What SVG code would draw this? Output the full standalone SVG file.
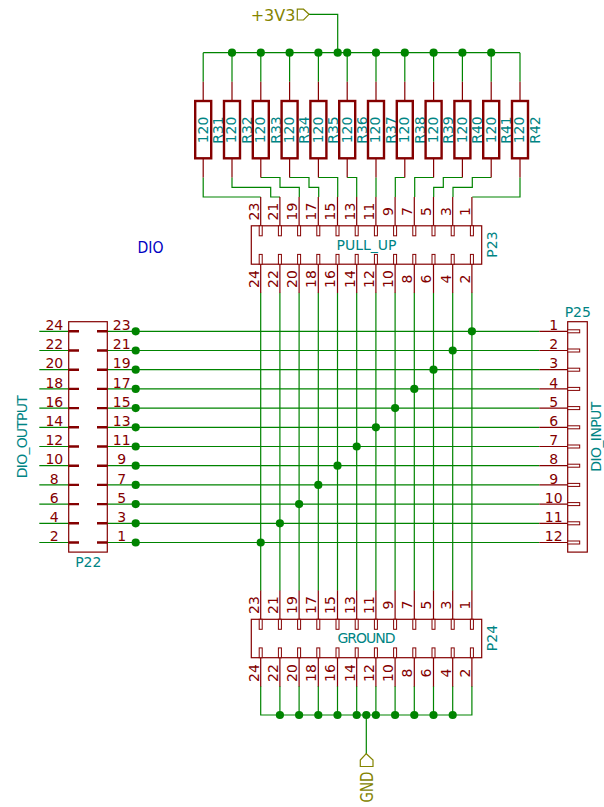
<svg xmlns="http://www.w3.org/2000/svg" width="604" height="807" viewBox="0 0 604 807">
<defs>
<style>
text{font-family:"DejaVu Sans","Liberation Sans",sans-serif;font-size:14px;text-anchor:middle}
.w{fill:none;stroke:#008400;stroke-width:1.2}
.r{fill:none;stroke:#840000;stroke-width:1.2}
.b{fill:none;stroke:#840000;stroke-width:2.4}
.p{fill:#fff;stroke:#840000;stroke-width:1}
.m{fill:none;stroke:#840000;stroke-width:2.4}
.t{fill:#008484}
.n{fill:#840000}
.f{fill:none;stroke:#848400;stroke-width:1.2}
.y{fill:#848400}
.d{fill:#008400}
</style>
<g id="res"><path class="r" d="M0 81.7V101M0 158.3V177.5"/><rect class="b" x="-8" y="101" width="16" height="57.3"/></g>
<circle id="j" r="4.1" class="d"/>
<g id="pv"><path class="r" d="M0 0V28.8M0 67.2V96"/><rect class="p" x="-1.5" y="28.8" width="3" height="10"/><rect class="p" x="-1.5" y="57.4" width="3" height="9.8"/></g>
</defs>
<g id="connectors">
<path class="w" d="M203.2 52.7H520M309 14.3H337.7V52.7M232 52.7V81.7M260.8 52.7V81.7M289.6 52.7V81.7M318.4 52.7V81.7M347.2 52.7V81.7M376 52.7V81.7M404.8 52.7V81.7M433.6 52.7V81.7M462.4 52.7V81.7M491.2 52.7V81.7M203.2 52.7V81.7M520 52.7V81.7"/>
<path class="w" d="M203.2 177.5V197H260.7M232 177.5V187.3H270.7V197H280M260.8 177.5H280V187.3H299.3V197M289.6 177.5H309V187.3H318.7V197M318.4 177.5H337.7V197M347.2 177.5H356.7V197M376 177.5V197M404.8 177.5H395.3V197M433.6 177.5H414.7V197M462.4 177.5H443.3V187.3H433.7V197M491.2 177.5H472.3V187.3H453V197M520 177.5V197H472.3"/>
<path class="w" d="M260.7 292.8V590.7M279.9 292.8V590.7M299.1 292.8V590.7M318.3 292.8V590.7M337.5 292.8V590.7M356.7 292.8V590.7M375.9 292.8V590.7M395.1 292.8V590.7M414.3 292.8V590.7M433.5 292.8V590.7M452.7 292.8V590.7M471.9 292.8V590.7"/>
<path class="w" d="M260.7 686V715H471.9V686M279.9 686V715M299.1 686V715M318.3 686V715M337.5 686V715M356.7 686V715M375.9 686V715M395.1 686V715M414.3 686V715M433.5 686V715M452.7 686V715M366.3 715V754"/>
<path class="w" d="M39.3 331.3H69M39.3 350.5H69M39.3 369.7H69M39.3 388.9H69M39.3 408.1H69M39.3 427.3H69M39.3 446.5H69M39.3 465.7H69M39.3 484.9H69M39.3 504.1H69M39.3 523.3H69M39.3 542.5H69"/>
<path class="w" d="M107 331.3H539.3M107 350.5H539.3M107 369.7H539.3M107 388.9H539.3M107 408.1H539.3M107 427.3H539.3M107 446.5H539.3M107 465.7H539.3M107 484.9H539.3M107 504.1H539.3M107 523.3H539.3M107 542.5H539.3"/>
</g>
<g id="junctions">
<use href="#j" x="232" y="52.7"/><use href="#j" x="260.8" y="52.7"/><use href="#j" x="289.6" y="52.7"/><use href="#j" x="318.4" y="52.7"/><use href="#j" x="337.7" y="52.7"/><use href="#j" x="347.2" y="52.7"/><use href="#j" x="376" y="52.7"/><use href="#j" x="404.8" y="52.7"/><use href="#j" x="433.6" y="52.7"/><use href="#j" x="462.4" y="52.7"/><use href="#j" x="491.2" y="52.7"/>
<use href="#j" x="135.7" y="331.3"/><use href="#j" x="135.7" y="350.5"/><use href="#j" x="135.7" y="369.7"/><use href="#j" x="135.7" y="388.9"/><use href="#j" x="135.7" y="408.1"/><use href="#j" x="135.7" y="427.3"/><use href="#j" x="135.7" y="446.5"/><use href="#j" x="135.7" y="465.7"/><use href="#j" x="135.7" y="484.9"/><use href="#j" x="135.7" y="504.1"/><use href="#j" x="135.7" y="523.3"/><use href="#j" x="135.7" y="542.5"/>
<use href="#j" x="471.9" y="331.3"/><use href="#j" x="452.7" y="350.5"/><use href="#j" x="433.5" y="369.7"/><use href="#j" x="414.3" y="388.9"/><use href="#j" x="395.1" y="408.1"/><use href="#j" x="375.9" y="427.3"/><use href="#j" x="356.7" y="446.5"/><use href="#j" x="337.5" y="465.7"/><use href="#j" x="318.3" y="484.9"/><use href="#j" x="299.1" y="504.1"/><use href="#j" x="279.9" y="523.3"/><use href="#j" x="260.7" y="542.5"/>
<use href="#j" x="279.9" y="715"/><use href="#j" x="299.1" y="715"/><use href="#j" x="318.3" y="715"/><use href="#j" x="337.5" y="715"/><use href="#j" x="356.7" y="715"/><use href="#j" x="366.3" y="715"/><use href="#j" x="375.9" y="715"/><use href="#j" x="395.1" y="715"/><use href="#j" x="414.3" y="715"/><use href="#j" x="433.5" y="715"/><use href="#j" x="452.7" y="715"/>
</g>
<g id="power-3v3"><path class="f" d="M309 14.3L303.5 9.2H297.3V20H303.5Z"/><text class="y" x="273" y="20.5" style="font-size:16px">+3V3</text></g>
<g id="power-gnd"><path class="f" d="M366.3 753.7L373 760V766.5H360.3V760Z"/><text class="y" transform="translate(372.7 787) rotate(-90)" style="font-size:17px" textLength="31" lengthAdjust="spacingAndGlyphs">GND</text></g>
<text id="dio-label" x="150.5" y="252.7" style="fill:#0000c2;font-size:16px" textLength="26" lengthAdjust="spacingAndGlyphs">DIO</text>
<g id="R31"><use href="#res" x="203.2"/><text class="t" transform="translate(207.5 130) rotate(-90)">120</text><text class="t" transform="translate(223 130) rotate(-90)">R31</text></g>
<g id="R32"><use href="#res" x="232"/><text class="t" transform="translate(236.3 130) rotate(-90)">120</text><text class="t" transform="translate(251.8 130) rotate(-90)">R32</text></g>
<g id="R33"><use href="#res" x="260.8"/><text class="t" transform="translate(265.1 130) rotate(-90)">120</text><text class="t" transform="translate(280.6 130) rotate(-90)">R33</text></g>
<g id="R34"><use href="#res" x="289.6"/><text class="t" transform="translate(293.9 130) rotate(-90)">120</text><text class="t" transform="translate(309.4 130) rotate(-90)">R34</text></g>
<g id="R35"><use href="#res" x="318.4"/><text class="t" transform="translate(322.7 130) rotate(-90)">120</text><text class="t" transform="translate(338.2 130) rotate(-90)">R35</text></g>
<g id="R36"><use href="#res" x="347.2"/><text class="t" transform="translate(351.5 130) rotate(-90)">120</text><text class="t" transform="translate(367 130) rotate(-90)">R36</text></g>
<g id="R37"><use href="#res" x="376"/><text class="t" transform="translate(380.3 130) rotate(-90)">120</text><text class="t" transform="translate(395.8 130) rotate(-90)">R37</text></g>
<g id="R38"><use href="#res" x="404.8"/><text class="t" transform="translate(409.1 130) rotate(-90)">120</text><text class="t" transform="translate(424.6 130) rotate(-90)">R38</text></g>
<g id="R39"><use href="#res" x="433.6"/><text class="t" transform="translate(437.9 130) rotate(-90)">120</text><text class="t" transform="translate(453.4 130) rotate(-90)">R39</text></g>
<g id="R40"><use href="#res" x="462.4"/><text class="t" transform="translate(466.7 130) rotate(-90)">120</text><text class="t" transform="translate(482.2 130) rotate(-90)">R40</text></g>
<g id="R41"><use href="#res" x="491.2"/><text class="t" transform="translate(495.5 130) rotate(-90)">120</text><text class="t" transform="translate(511 130) rotate(-90)">R41</text></g>
<g id="R42"><use href="#res" x="520"/><text class="t" transform="translate(524.3 130) rotate(-90)">120</text><text class="t" transform="translate(539.8 130) rotate(-90)">R42</text></g>
<g id="P23">
<rect class="r" x="251.3" y="225.8" width="230.4" height="38.4"/>
<use href="#pv" x="260.7" y="197"/><use href="#pv" x="279.9" y="197"/><use href="#pv" x="299.1" y="197"/><use href="#pv" x="318.3" y="197"/><use href="#pv" x="337.5" y="197"/><use href="#pv" x="356.7" y="197"/><use href="#pv" x="375.9" y="197"/><use href="#pv" x="395.1" y="197"/><use href="#pv" x="414.3" y="197"/><use href="#pv" x="433.5" y="197"/><use href="#pv" x="452.7" y="197"/><use href="#pv" x="471.9" y="197"/>
<text class="t" x="366.5" y="249.5" textLength="60">PULL_UP</text>
<text class="t" transform="translate(496.7 244.5) rotate(-90)">P23</text>
<g class="n">
<text transform="translate(258.6 211.5) rotate(-90)">23</text><text transform="translate(277.8 211.5) rotate(-90)">21</text><text transform="translate(297 211.5) rotate(-90)">19</text><text transform="translate(316.2 211.5) rotate(-90)">17</text><text transform="translate(335.4 211.5) rotate(-90)">15</text><text transform="translate(354.6 211.5) rotate(-90)">13</text><text transform="translate(373.8 211.5) rotate(-90)">11</text><text transform="translate(393 211.5) rotate(-90)">9</text><text transform="translate(412.2 211.5) rotate(-90)">7</text><text transform="translate(431.4 211.5) rotate(-90)">5</text><text transform="translate(450.6 211.5) rotate(-90)">3</text><text transform="translate(469.8 211.5) rotate(-90)">1</text>
<text transform="translate(258.6 279) rotate(-90)">24</text><text transform="translate(277.8 279) rotate(-90)">22</text><text transform="translate(297 279) rotate(-90)">20</text><text transform="translate(316.2 279) rotate(-90)">18</text><text transform="translate(335.4 279) rotate(-90)">16</text><text transform="translate(354.6 279) rotate(-90)">14</text><text transform="translate(373.8 279) rotate(-90)">12</text><text transform="translate(393 279) rotate(-90)">10</text><text transform="translate(412.2 279) rotate(-90)">8</text><text transform="translate(431.4 279) rotate(-90)">6</text><text transform="translate(450.6 279) rotate(-90)">4</text><text transform="translate(469.8 279) rotate(-90)">2</text>
</g>
</g>
<g id="P24">
<rect class="r" x="251.3" y="619.3" width="230.4" height="38.4"/>
<use href="#pv" x="260.7" y="590.5"/><use href="#pv" x="279.9" y="590.5"/><use href="#pv" x="299.1" y="590.5"/><use href="#pv" x="318.3" y="590.5"/><use href="#pv" x="337.5" y="590.5"/><use href="#pv" x="356.7" y="590.5"/><use href="#pv" x="375.9" y="590.5"/><use href="#pv" x="395.1" y="590.5"/><use href="#pv" x="414.3" y="590.5"/><use href="#pv" x="433.5" y="590.5"/><use href="#pv" x="452.7" y="590.5"/><use href="#pv" x="471.9" y="590.5"/>
<text class="t" x="366.5" y="643" textLength="58">GROUND</text>
<text class="t" transform="translate(496.7 638) rotate(-90)">P24</text>
<g class="n">
<text transform="translate(258.6 605) rotate(-90)">23</text><text transform="translate(277.8 605) rotate(-90)">21</text><text transform="translate(297 605) rotate(-90)">19</text><text transform="translate(316.2 605) rotate(-90)">17</text><text transform="translate(335.4 605) rotate(-90)">15</text><text transform="translate(354.6 605) rotate(-90)">13</text><text transform="translate(373.8 605) rotate(-90)">11</text><text transform="translate(393 605) rotate(-90)">9</text><text transform="translate(412.2 605) rotate(-90)">7</text><text transform="translate(431.4 605) rotate(-90)">5</text><text transform="translate(450.6 605) rotate(-90)">3</text><text transform="translate(469.8 605) rotate(-90)">1</text>
<text transform="translate(258.6 673) rotate(-90)">24</text><text transform="translate(277.8 673) rotate(-90)">22</text><text transform="translate(297 673) rotate(-90)">20</text><text transform="translate(316.2 673) rotate(-90)">18</text><text transform="translate(335.4 673) rotate(-90)">16</text><text transform="translate(354.6 673) rotate(-90)">14</text><text transform="translate(373.8 673) rotate(-90)">12</text><text transform="translate(393 673) rotate(-90)">10</text><text transform="translate(412.2 673) rotate(-90)">8</text><text transform="translate(431.4 673) rotate(-90)">6</text><text transform="translate(450.6 673) rotate(-90)">4</text><text transform="translate(469.8 673) rotate(-90)">2</text>
</g>
</g>
<g id="P22">
<rect class="r" x="68.7" y="321.7" width="38.6" height="230.4"/>
<path class="m" d="M68.7 331.3H79M97 331.3H107.3M68.7 350.5H79M97 350.5H107.3M68.7 369.7H79M97 369.7H107.3M68.7 388.9H79M97 388.9H107.3M68.7 408.1H79M97 408.1H107.3M68.7 427.3H79M97 427.3H107.3M68.7 446.5H79M97 446.5H107.3M68.7 465.7H79M97 465.7H107.3M68.7 484.9H79M97 484.9H107.3M68.7 504.1H79M97 504.1H107.3M68.7 523.3H79M97 523.3H107.3M68.7 542.5H79M97 542.5H107.3"/>
<text class="t" x="88.3" y="567.3">P22</text>
<text class="t" transform="translate(26.7 436.7) rotate(-90)" textLength="83">DIO_OUTPUT</text>
<g class="n">
<text x="54.3" y="330">24</text><text x="54.3" y="349.2">22</text><text x="54.3" y="368.4">20</text><text x="54.3" y="387.6">18</text><text x="54.3" y="406.8">16</text><text x="54.3" y="426">14</text><text x="54.3" y="445.2">12</text><text x="54.3" y="464.4">10</text><text x="54.3" y="483.6">8</text><text x="54.3" y="502.8">6</text><text x="54.3" y="522">4</text><text x="54.3" y="541.2">2</text>
<text x="121.7" y="330">23</text><text x="121.7" y="349.2">21</text><text x="121.7" y="368.4">19</text><text x="121.7" y="387.6">17</text><text x="121.7" y="406.8">15</text><text x="121.7" y="426">13</text><text x="121.7" y="445.2">11</text><text x="121.7" y="464.4">9</text><text x="121.7" y="483.6">7</text><text x="121.7" y="502.8">5</text><text x="121.7" y="522">3</text><text x="121.7" y="541.2">1</text>
</g>
</g>
<g id="P25">
<rect class="r" x="567.7" y="321.7" width="19.6" height="230.4"/>
<path class="r" d="M539.3 331.3H567.7M539.3 350.5H567.7M539.3 369.7H567.7M539.3 388.9H567.7M539.3 408.1H567.7M539.3 427.3H567.7M539.3 446.5H567.7M539.3 465.7H567.7M539.3 484.9H567.7M539.3 504.1H567.7M539.3 523.3H567.7M539.3 542.5H567.7"/>
<rect class="p" x="567.7" y="329.8" width="12" height="3"/><rect class="p" x="567.7" y="349" width="12" height="3"/><rect class="p" x="567.7" y="368.2" width="12" height="3"/><rect class="p" x="567.7" y="387.4" width="12" height="3"/><rect class="p" x="567.7" y="406.6" width="12" height="3"/><rect class="p" x="567.7" y="425.8" width="12" height="3"/><rect class="p" x="567.7" y="445" width="12" height="3"/><rect class="p" x="567.7" y="464.2" width="12" height="3"/><rect class="p" x="567.7" y="483.4" width="12" height="3"/><rect class="p" x="567.7" y="502.6" width="12" height="3"/><rect class="p" x="567.7" y="521.8" width="12" height="3"/><rect class="p" x="567.7" y="541" width="12" height="3"/>
<text class="t" x="577.8" y="316.7">P25</text>
<text class="t" transform="translate(600.7 436.7) rotate(-90)" textLength="70">DIO_INPUT</text>
<g class="n">
<text x="553.7" y="330">1</text><text x="553.7" y="349.2">2</text><text x="553.7" y="368.4">3</text><text x="553.7" y="387.6">4</text><text x="553.7" y="406.8">5</text><text x="553.7" y="426">6</text><text x="553.7" y="445.2">7</text><text x="553.7" y="464.4">8</text><text x="553.7" y="483.6">9</text><text x="553.7" y="502.8">10</text><text x="553.7" y="522">11</text><text x="553.7" y="541.2">12</text>
</g>
</g>
</svg>
